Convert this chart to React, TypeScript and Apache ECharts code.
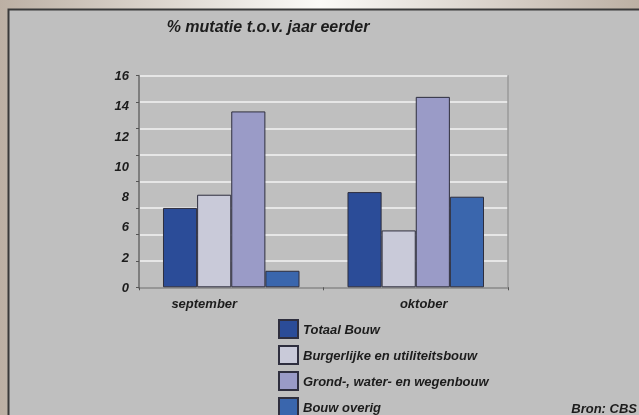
import React, { useEffect, useRef } from "react";
import * as echarts from "echarts";

const categories = ["september", "oktober"];
const seriesNames = [
  "Totaal Bouw",
  "Burgerlijke en utiliteitsbouw",
  "Grond-, water- en wegenbouw",
  "Bouw overig",
];
const totaalBouw = [6.0, 7.2];
const burgerlijke = [7.0, 4.3];
const grondWater = [13.3, 14.4];
const bouwOverig = [1.25, 6.85];
const yTickLabels = ["0", "2", "6", "8", "10", "12", "14", "16"];
const colors = ["#2b4c98", "#c9cad9", "#9a9bc7", "#3a66ad"];

const FONT = "'Liberation Sans', Arial, sans-serif";

export default function App() {
  const ref = useRef<HTMLDivElement>(null);
  useEffect(() => {
    if (!ref.current) return;
    const chart = echarts.init(ref.current, null, { renderer: "svg" });
    const values = [totaalBouw, burgerlijke, grondWater, bouwOverig];
    const labelStyle = {
      fontFamily: FONT,
      fontWeight: "bold" as const,
      fontStyle: "italic" as const,
      fontSize: 13,
      color: "#1c1c1c",
    };
    chart.setOption({
      animation: false,
      graphic: [
        {
          type: "rect",
          z: -10,
          shape: { x: 0, y: 0, width: 639, height: 415 },
          style: {
            fill: new echarts.graphic.LinearGradient(0, 0, 1, 0, [
              { offset: 0, color: "#bcb0a4" },
              { offset: 0.5, color: "#fbfaf7" },
              { offset: 1, color: "#bcb0a4" },
            ]),
          },
        },
        {
          type: "rect",
          z: -9,
          shape: { x: 8.5, y: 9.5, width: 640, height: 420 },
          style: { fill: "#bfbfbf", stroke: "#3a3a3a", lineWidth: 2 },
        },
        {
          type: "text",
          x: 268,
          y: 26,
          style: {
            text: "% mutatie t.o.v. jaar eerder",
            align: "center",
            verticalAlign: "middle",
            font: `italic bold 16px ${FONT}`,
            fill: "#1c1c1c",
          },
        },
        {
          type: "text",
          x: 637,
          y: 408,
          style: {
            text: "Bron: CBS",
            align: "right",
            verticalAlign: "middle",
            font: `italic bold 13px ${FONT}`,
            fill: "#1c1c1c",
          },
        },
      ],
      legend: {
        orient: "vertical",
        left: 278,
        top: 319,
        height: 120,
        padding: 0,
        itemWidth: 19,
        itemHeight: 18,
        itemGap: 6,
        icon: "rect",
        data: seriesNames,
        textStyle: { ...labelStyle },
      },
      grid: {
        left: 139,
        top: 75.7,
        right: 131,
        bottom: 127.7,
      },
      xAxis: [
        {
          type: "category",
          data: categories,
          position: "bottom",
          axisLine: { lineStyle: { color: "#6e6e6e", width: 1.5 } },
          axisTick: { show: true, length: 3, lineStyle: { color: "#555" } },
          axisLabel: {
            ...labelStyle,
            margin: 10,
            formatter: (v: string) => (v === "september" ? `{s|${v}}` : `{o|${v}}`),
            rich: {
              s: { ...labelStyle, padding: [0, 54, 0, 0] },
              o: { ...labelStyle, padding: [0, 0, 0, 16] },
            },
          },
          splitLine: { show: false },
        },
        {
          type: "category",
          data: categories,
          position: "top",
          axisLine: { lineStyle: { color: "#9a9a9a", width: 1.5 } },
          axisTick: { show: false },
          axisLabel: { show: false },
        },
      ],
      yAxis: [
        {
          type: "value",
          min: 0,
          max: 16,
          interval: 2,
          position: "left",
          axisLine: { show: true, lineStyle: { color: "#7e7e7e", width: 2 } },
          axisTick: { show: true, length: 3, lineStyle: { color: "#555" } },
          axisLabel: { show: false },
          splitLine: { show: true, lineStyle: { color: "#e6e6e6", width: 2 } },
        },
        {
          type: "category",
          data: yTickLabels,
          boundaryGap: false,
          position: "left",
          axisLine: { show: false },
          axisTick: { show: false },
          axisLabel: { ...labelStyle, margin: 10 },
          splitLine: { show: false },
        },
        {
          type: "value",
          min: 0,
          max: 16,
          position: "right",
          axisLine: { show: true, lineStyle: { color: "#9a9a9a", width: 1.5 } },
          axisTick: { show: false },
          axisLabel: { show: false },
          splitLine: { show: false },
        },
      ],
      series: seriesNames.map((name, i) => ({
        name,
        type: "bar",
        xAxisIndex: 0,
        yAxisIndex: 0,
        data: values[i],
        barGap: "0%",
        barCategoryGap: "26%",
        itemStyle: { color: colors[i], borderColor: "#2e2e3e", borderWidth: 1 },
      })),
    });
    return () => chart.dispose();
  }, []);
  return (
    <div
      ref={ref}
      style={{ position: "fixed", left: 0, top: 0, width: 639, height: 415 }}
    />
  );
}
